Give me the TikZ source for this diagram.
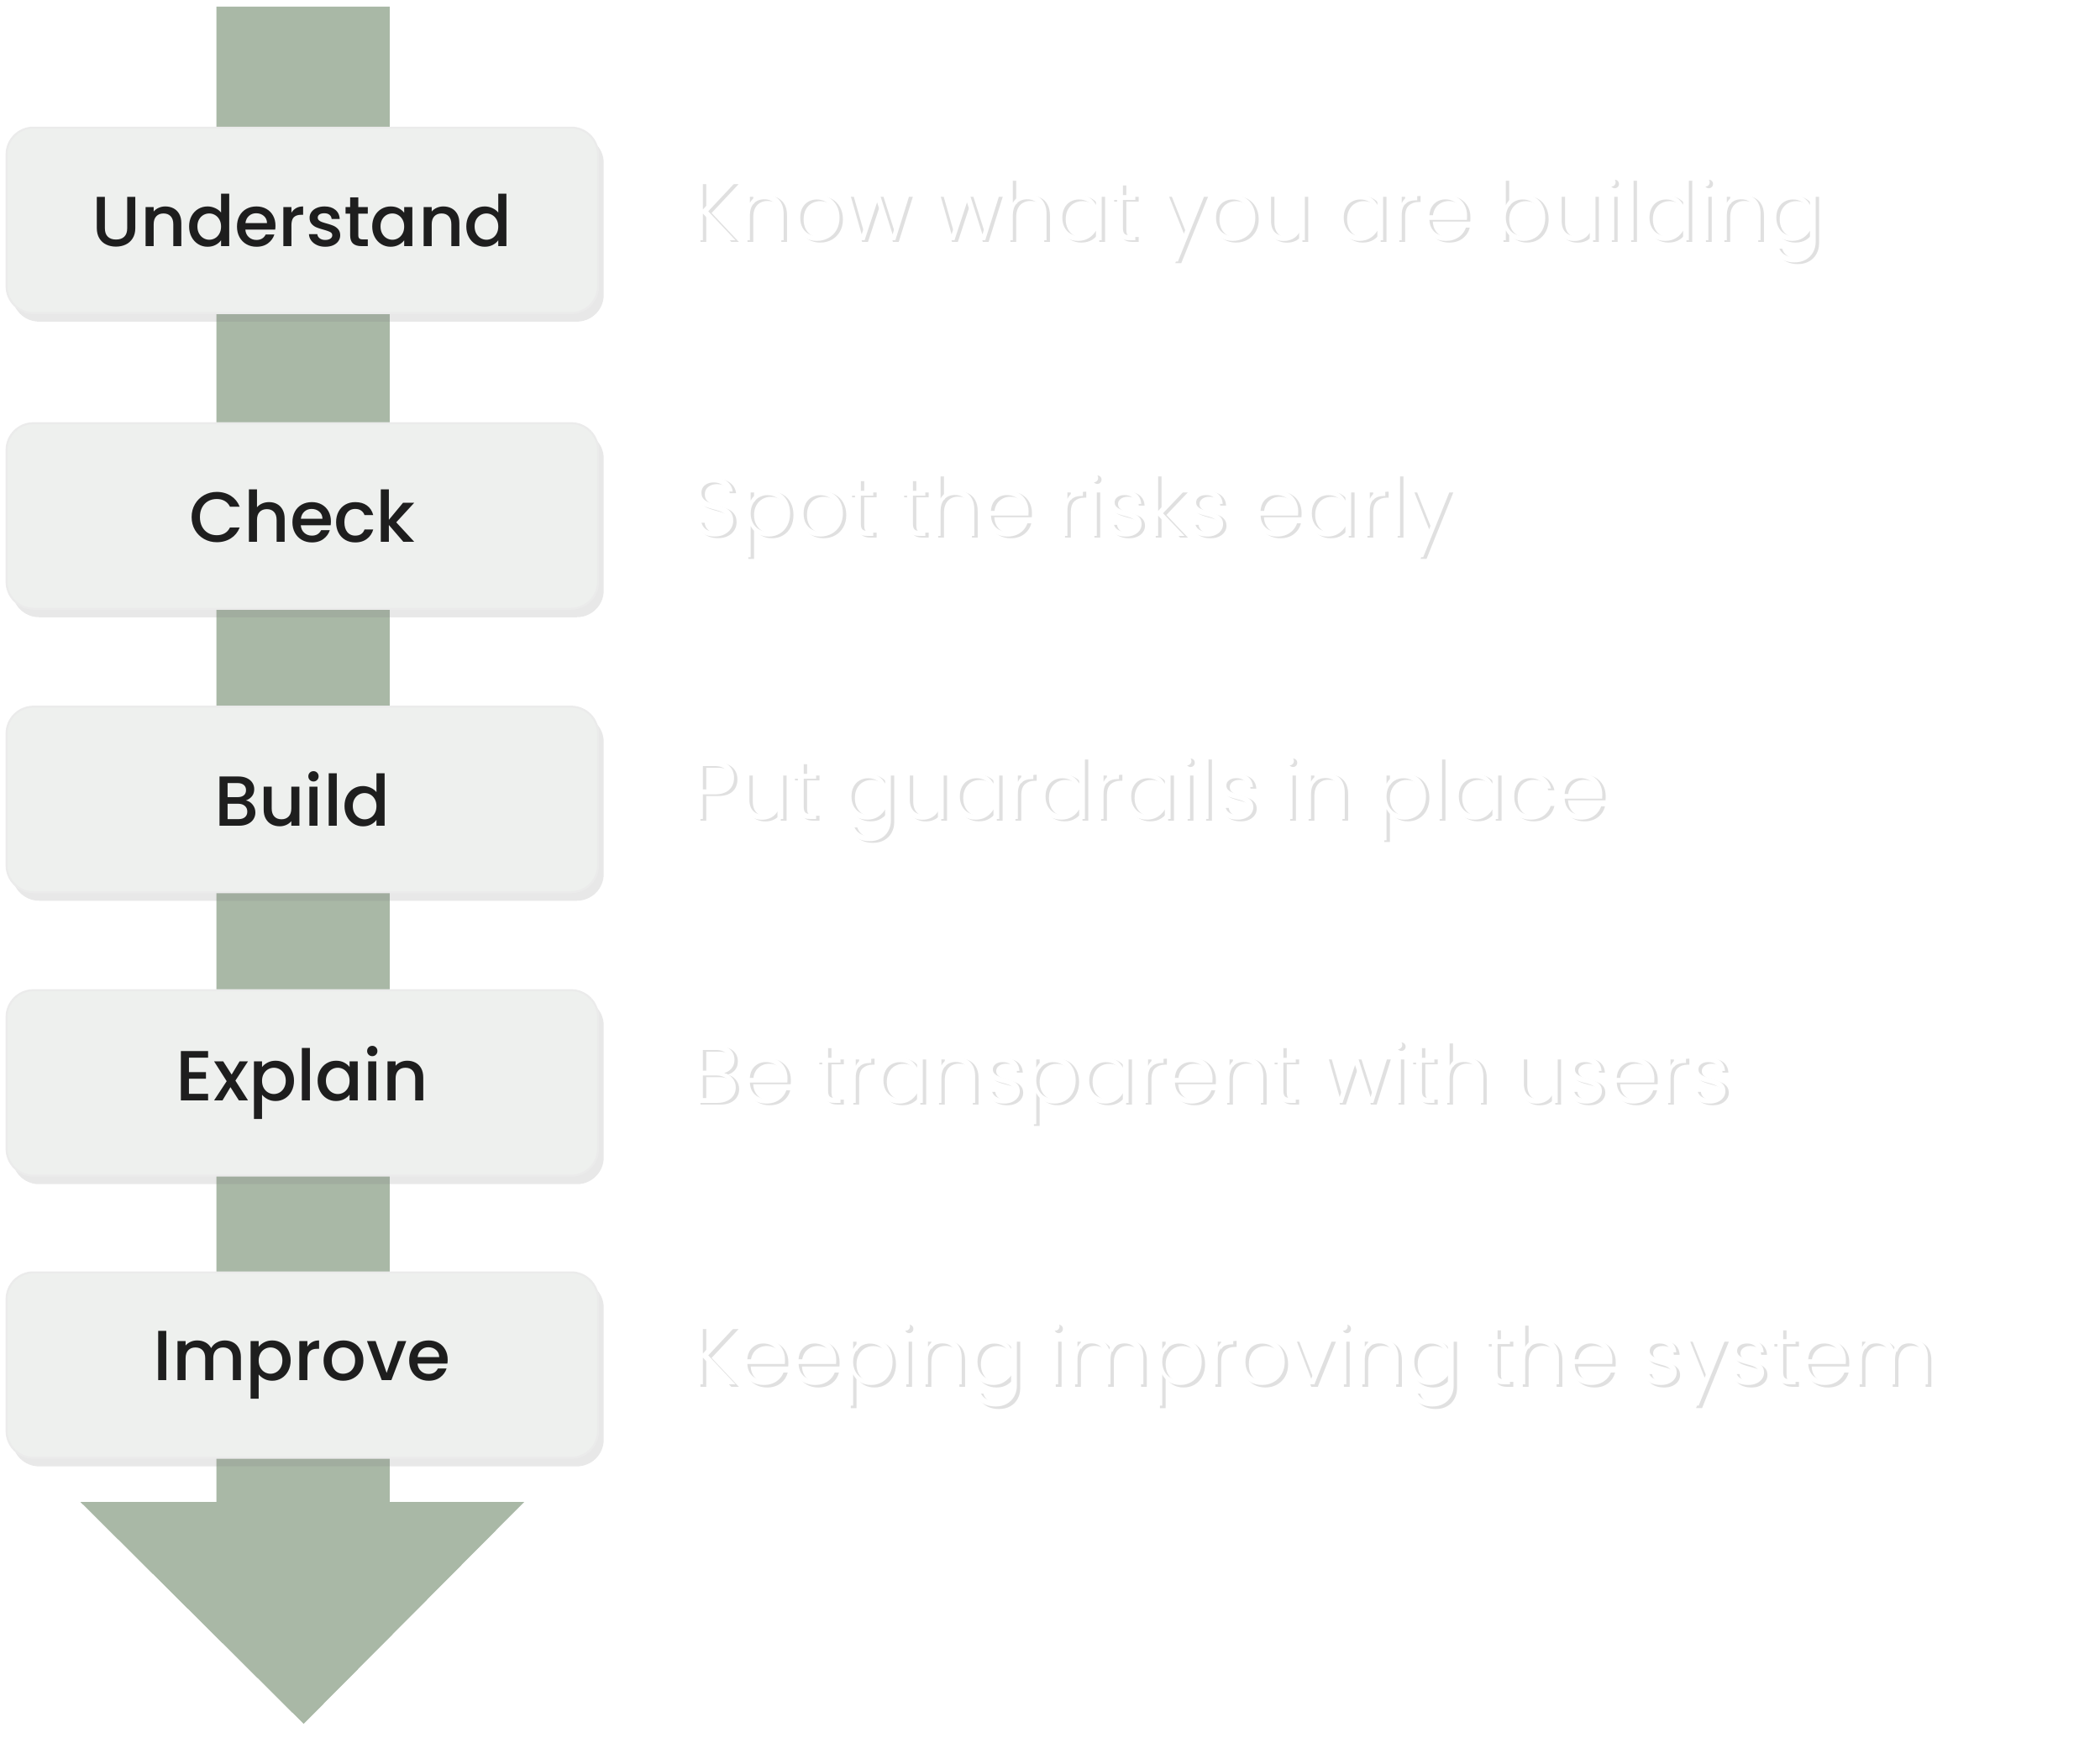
\documentclass[tikz,border=0pt]{standalone}
\usepackage{fontspec}
\setmainfont{Poppins}
\newfontfamily\lightfont{Poppins Light}
\newfontfamily\medfont{Poppins Medium}
\usetikzlibrary{shadows}
\definecolor{arrowc}{HTML}{A9B8A6}
\definecolor{boxc}{HTML}{EEF0EE}
\definecolor{txt}{HTML}{1E1E1E}
\tikzset{
 stepbox/.style={fill=boxc, draw=black!8, rounded corners=0.2cm, minimum width=4.4cm, minimum height=1.38cm, font=\medfont\fontsize{15}{18}\selectfont, text=txt, drop shadow={shadow xshift=1.2pt, shadow yshift=-1.8pt, opacity=0.18}},
 desc/.style={anchor=west, text=white, font=\lightfont\fontsize{17.5}{20}\selectfont}
}
\begin{document}
\begin{tikzpicture}[x=0.01cm,y=-0.01cm]
\useasboundingbox (0,0) rectangle (1563,1297);
\fill[arrowc] (161,5) -- (290,5) -- (290,1118) -- (390,1118) -- (226,1283) -- (60,1118) -- (161,1118) -- cycle;
\foreach \n/\t/\d/\y in {a/Understand/Know what you are building/164,
  b/Check/Spot the risks early/384,
  c/Build/Put guardrails in place/595,
  d/Explain/Be transparent with users/806,
  e/Improve/Keeping improving the system/1016}{
  \node[stepbox] (\n) at (225,\y) {\t};
  \node[desc, text=black!12] at (504.5,\y+1.5) {\d};
  \node[desc] (\n d) at (502,\y) {\d};
}
\end{tikzpicture}
\end{document}
